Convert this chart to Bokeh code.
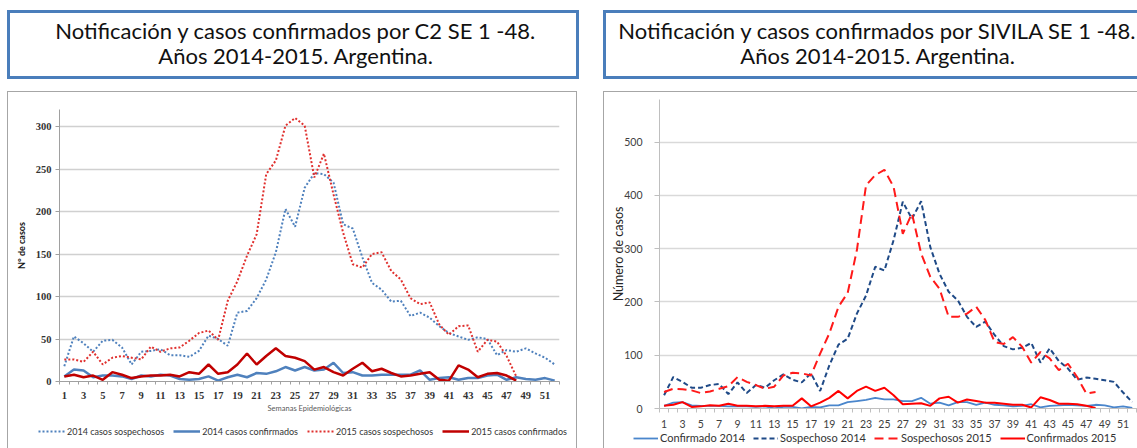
from bokeh.plotting import figure
from bokeh.layouts import row, column
from bokeh.models import Range1d, FixedTicker, Legend, LegendItem, Spacer
from bokeh.embed import file_html
from bokeh.resources import INLINE
from bokeh.core.properties import value

# ---------------- data ----------------
weeks = list(range(1, 53))
weeks_2015 = list(range(1, 49))
tick_weeks = list(range(1, 53, 2))
tick_labels = {w: str(w) for w in tick_weeks}

# C2 (left chart)
c2_sosp_2014 = [18, 53, 45, 35, 48, 49, 40, 20, 35, 36,
                38, 31, 31, 29, 36, 54, 50, 42, 81, 83,
                98, 120, 152, 203, 182, 228, 245, 244, 234, 185,
                180, 146, 116, 108, 94, 95, 77, 81, 75, 65,
                57, 53, 49, 52, 50, 31, 37, 35, 39, 33,
                28, 20]
c2_conf_2014 = [6, 14, 13, 5, 7, 7, 6, 3, 7, 6,
                8, 7, 3, 2, 3, 6, 1, 5, 8, 5,
                10, 9, 12, 17, 13, 17, 13, 14, 22, 10,
                11, 7, 7, 8, 8, 8, 8, 13, 2, 4,
                5, 2, 4, 4, 7, 8, 2, 5, 3, 2,
                4, 1]
c2_sosp_2015 = [26, 26, 23, 35, 20, 28, 30, 28, 26, 41,
                35, 39, 40, 48, 57, 60, 49, 95, 118, 148,
                173, 244, 260, 301, 310, 301, 240, 268, 220, 175,
                138, 134, 150, 152, 130, 120, 98, 91, 93, 67,
                55, 65, 66, 35, 49, 47, 30, 6]
c2_conf_2015 = [6, 8, 5, 7, 2, 11, 8, 4, 6, 7,
                7, 8, 6, 11, 9, 20, 9, 11, 20, 33,
                20, 30, 39, 30, 28, 24, 14, 17, 11, 7,
                15, 22, 12, 15, 10, 6, 7, 9, 11, 2,
                1, 19, 14, 5, 9, 10, 7, 1]

# SIVILA (right chart)
sivila_conf_2014 = [5, 11, 12, 6, 5, 5, 5, 4, 4, 4,
                    3, 4, 0, 3, 3, 0, 3, 2, 6, 6,
                    12, 14, 16, 20, 17, 17, 14, 14, 20, 9,
                    11, 6, 12, 12, 7, 11, 7, 6, 4, 5,
                    8, 2, 5, 6, 7, 6, 5, 7, 6, 2,
                    4, 1]
sivila_sosp_2014 = [25, 59, 50, 39, 39, 44, 46, 27, 49, 29,
                    44, 39, 53, 64, 54, 49, 66, 33, 81, 120,
                    131, 178, 212, 266, 259, 316, 388, 356, 389, 303,
                    253, 219, 203, 172, 153, 163, 138, 117, 111, 114,
                    123, 86, 113, 89, 75, 54, 58, 56, 53, 50,
                    30, 12]
sivila_sosp_2015 = [31, 37, 36, 34, 29, 32, 37, 42, 59, 50,
                    44, 37, 41, 62, 67, 66, 62, 103, 141, 191,
                    217, 297, 419, 438, 448, 416, 328, 366, 291, 247,
                    225, 172, 172, 178, 191, 166, 125, 121, 134, 116,
                    86, 106, 94, 72, 84, 59, 28, 31]
sivila_conf_2015 = [5, 7, 12, 3, 4, 6, 5, 9, 5, 5,
                    4, 5, 4, 5, 5, 19, 4, 11, 20, 33,
                    19, 33, 41, 33, 39, 25, 8, 9, 10, 5,
                    19, 22, 11, 17, 14, 11, 11, 9, 7, 7,
                    2, 21, 16, 9, 9, 8, 5, 1]

title_left = ["Notificación y casos confirmados por C2 SE 1 -48.",
              "Años 2014-2015. Argentina."]
title_right = ["Notificación y casos confirmados por SIVILA SE 1 -48.",
               "Años 2014-2015. Argentina."]

labels_left = ["2014 casos sospechosos", "2014 casos confirmados",
               "2015 casos sospechosos", "2015 casos confirmados"]
labels_right = ["Confirmado 2014", "Sospechoso 2014",
                "Sospechosos 2015", "Confirmados 2015"]

BOX_BLUE = "#4A7EBB"
FRAME_GRAY = "1px solid #A6A6A6"

# series styles: (x, y, color, width, dash)
left_series = [
    (weeks, c2_sosp_2014, "#4F81BD", 2, "2 2"),
    (weeks, c2_conf_2014, "#4F81BD", 2.5, "solid"),
    (weeks_2015, c2_sosp_2015, "#E0302E", 2, "2 2"),
    (weeks_2015, c2_conf_2015, "#C00000", 2.5, "solid"),
]
right_series = [
    (weeks, sivila_conf_2014, "#4A86CC", 1.8, "solid"),
    (weeks, sivila_sosp_2014, "#1F4A87", 2, "5 3"),
    (weeks_2015, sivila_sosp_2015, "#FF1A1A", 2, "9 5"),
    (weeks_2015, sivila_conf_2015, "#FF0000", 2, "solid"),
]


def title_fig(width, height, lines, cx, borders, bw_lr):
    cw = width - bw_lr
    ch = height - 6
    p = figure(width=width, height=height, output_backend="svg",
               toolbar_location=None, x_axis_location=None,
               y_axis_location=None, min_border=0,
               outline_line_color=None, styles=borders,
               x_range=Range1d(0, cw), y_range=Range1d(0, ch))
    p.frame_align = False
    p.grid.visible = False
    p.text(x=[cx, cx], y=[ch - 15.8, ch - 38], text=lines,
           text_font=value("Lato"), text_font_size="22px",
           text_color="#111111", text_align="center",
           text_baseline="middle")
    return p


def draw_series(p, series):
    return [p.line(x, y, line_color=c, line_width=w, line_dash=d)
            for (x, y, c, w, d) in series]


def legend_fig(width, height, series, labels, loc, borders, font_size,
               glyph_w, spacing):
    p = figure(width=width, height=height, output_backend="svg",
               toolbar_location=None, x_axis_location=None,
               y_axis_location=None, min_border=0,
               outline_line_color=None, styles=borders,
               x_range=Range1d(0.5, 52.5), y_range=Range1d(-20, -10))
    p.frame_align = False
    p.grid.visible = False
    rs = draw_series(p, series)  # same series; kept outside the view
    leg = Legend(items=[LegendItem(label=l, renderers=[r])
                        for l, r in zip(labels, rs)],
                 orientation="horizontal", location=loc,
                 glyph_width=glyph_w, glyph_height=12, label_height=12,
                 label_standoff=2, spacing=spacing, padding=0, margin=0,
                 border_line_color=None, background_fill_alpha=0,
                 label_text_font="Lato", label_text_font_size=font_size,
                 label_text_color="#333333")
    p.add_layout(leg)
    return p


# ---------------- title boxes ----------------
t_left = title_fig(572, 69, title_left, 282.5,
                   {"border": "3px solid " + BOX_BLUE}, 6)
t_right = title_fig(534, 69, title_right, 270,
                    {"border-left": "3px solid " + BOX_BLUE,
                     "border-top": "3px solid " + BOX_BLUE,
                     "border-bottom": "3px solid " + BOX_BLUE}, 3)

# ---------------- left chart (C2) ----------------
p1 = figure(width=570, height=333, x_range=Range1d(0.5, 52.5),
            y_range=Range1d(0, 320), output_backend="svg",
            toolbar_location=None, min_border_left=51, min_border_right=19,
            min_border_top=17, min_border_bottom=44,
            outline_line_color=None,
            styles={"border-left": FRAME_GRAY, "border-top": FRAME_GRAY,
                    "border-right": FRAME_GRAY})
p1.frame_align = False
p1.xgrid.visible = False
p1.ygrid.grid_line_color = "#D0D0D0"
p1.ygrid.grid_line_width = 1.5
p1.xaxis.ticker = FixedTicker(ticks=tick_weeks,
                              minor_ticks=[w - 0.5 for w in weeks] + [52.5])
p1.xaxis.major_label_overrides = tick_labels
p1.yaxis.ticker = FixedTicker(ticks=[0, 50, 100, 150, 200, 250, 300])
for ax in (p1.xaxis[0], p1.yaxis[0]):
    ax.axis_line_color = "#A0A0A0"
    ax.major_label_text_font = "Liberation Serif"
    ax.major_label_text_font_style = "bold"
    ax.major_label_text_font_size = "10.5px"
    ax.major_label_text_color = "#333333"
p1.xaxis.major_tick_line_color = None
p1.xaxis.major_tick_out = 0
p1.xaxis.major_tick_in = 0
p1.xaxis.minor_tick_line_color = "#A0A0A0"
p1.xaxis.minor_tick_out = 3
p1.xaxis.minor_tick_in = 0
p1.xaxis.major_label_standoff = 7
p1.xaxis.axis_label = "Semanas Epidemiológicas"
p1.xaxis.axis_label_text_font = "Lato"
p1.xaxis.axis_label_text_font_size = "7.5px"
p1.xaxis.axis_label_text_font_style = "normal"
p1.xaxis.axis_label_text_color = "#595959"
p1.xaxis.axis_label_standoff = 2
p1.yaxis.major_tick_line_color = "#A0A0A0"
p1.yaxis.major_tick_out = 4
p1.yaxis.major_tick_in = 0
p1.yaxis.minor_tick_line_color = None
p1.yaxis.major_label_standoff = 4
p1.yaxis.axis_label = "N° de casos"
p1.yaxis.axis_label_text_font = "Lato"
p1.yaxis.axis_label_text_font_size = "9px"
p1.yaxis.axis_label_text_font_style = "bold"
p1.yaxis.axis_label_text_color = "#111111"
p1.yaxis.axis_label_standoff = 6
draw_series(p1, left_series)

leg_left = legend_fig(570, 24, left_series, labels_left, (30, 11),
                      {"border-left": FRAME_GRAY,
                       "border-right": FRAME_GRAY}, "9px", 27, 9)

# ---------------- right chart (SIVILA) ----------------
p2 = figure(width=534, height=338, x_range=Range1d(0.5, 52.68),
            y_range=Range1d(0, 580), output_backend="svg",
            toolbar_location=None, min_border_left=55, min_border_right=0,
            min_border_top=7, min_border_bottom=21,
            outline_line_color=None,
            styles={"border-left": FRAME_GRAY, "border-top": FRAME_GRAY})
p2.frame_align = False
p2.xgrid.visible = False
p2.ygrid.grid_line_color = "#D9D9D9"
p2.ygrid.grid_line_width = 1.5
p2.xaxis.ticker = FixedTicker(ticks=tick_weeks,
                              minor_ticks=[w - 0.5 for w in weeks] + [52.5])
p2.xaxis.major_label_overrides = tick_labels
p2.yaxis.ticker = FixedTicker(ticks=[0, 100, 200, 300, 400, 500])
for ax in (p2.xaxis[0], p2.yaxis[0]):
    ax.axis_line_color = "#BFBFBF"
    ax.major_label_text_font = "Lato"
    ax.major_label_text_font_size = "10.5px"
    ax.major_label_text_color = "#404040"
p2.xaxis.major_tick_line_color = None
p2.xaxis.major_tick_out = 0
p2.xaxis.major_tick_in = 0
p2.xaxis.minor_tick_line_color = "#BFBFBF"
p2.xaxis.minor_tick_out = 4
p2.xaxis.minor_tick_in = 0
p2.xaxis.major_label_standoff = 7
p2.yaxis.major_tick_line_color = "#BFBFBF"
p2.yaxis.major_tick_out = 5
p2.yaxis.major_tick_in = 0
p2.yaxis.minor_tick_line_color = None
p2.yaxis.major_label_standoff = 12
p2.yaxis.axis_label = "Número de casos"
p2.yaxis.axis_label_text_font = "Lato"
p2.yaxis.axis_label_text_font_size = "12.5px"
p2.yaxis.axis_label_text_font_style = "normal"
p2.yaxis.axis_label_text_color = "#262626"
p2.yaxis.axis_label_standoff = -5
draw_series(p2, right_series)

leg_right = legend_fig(534, 19, right_series, labels_right, (29, 4),
                       {"border-left": FRAME_GRAY}, "11px", 25, 8)

left_col = column(Spacer(height=10), t_left, Spacer(height=12), p1,
                  leg_left)
right_col = column(Spacer(height=10), t_right, Spacer(height=12), p2,
                   leg_right)
layout = row(Spacer(width=7), left_col, Spacer(width=24), right_col)

open("out.html", "w").write(file_html(layout, INLINE))
